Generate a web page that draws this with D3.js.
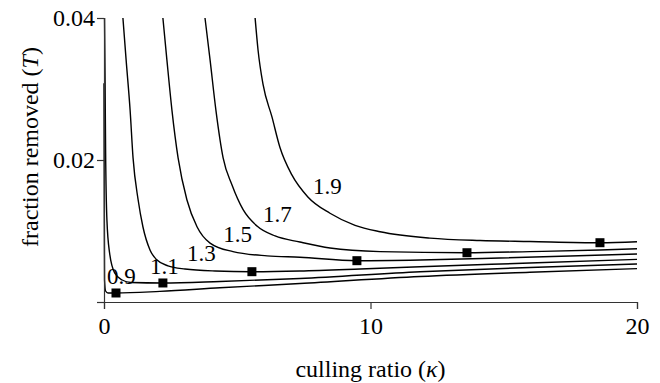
<!DOCTYPE html>
<html>
<head>
<meta charset="utf-8">
<script src="https://cdn.jsdelivr.net/npm/d3@7"></script>
<style>
  body { margin: 0; background: #fff; }
  svg text { font-family: "Liberation Serif", "Times New Roman", Times, "DejaVu Serif", serif; fill: #000; }
</style>
</head>
<body>
<div id="chart"></div>
<script>
// basic reproduction number for each curve
const rValues = ["0.9", "1.1", "1.3", "1.5", "1.7", "1.9"];

// culling ratio (kappa) and fraction removed (T)
const kappa09 = [0, 0.01, 0.02, 0.06, 0.15, 0.45, 2.1, 4.35, 7.35, 11.86, 15.98, 20];
const t09     = [0.0308, 0.0144, 0.0031, 0.00155, 0.00127, 0.00127, 0.0015, 0.002, 0.0026, 0.0036, 0.0042, 0.0047];

const kappa11 = [0.02, 0.04, 0.06, 0.11, 0.21, 0.4, 0.68, 1.01, 2.21, 4.35, 7.35, 11.86, 15.98, 20];
const t11     = [0.04, 0.0313, 0.0214, 0.0115, 0.0069, 0.0041, 0.0031, 0.00275, 0.00268, 0.00289, 0.00331, 0.00427, 0.00486, 0.00535];

const kappa13 = [0.71, 0.83, 0.98, 1.09, 1.28, 1.46, 1.73, 1.99, 2.4, 3.04, 4.17, 5.55, 7.35, 9.61, 11.86, 15.98, 20];
const t13     = [0.04, 0.0341, 0.027, 0.0203, 0.0144, 0.0106, 0.0073, 0.0059, 0.0051, 0.00465, 0.00437, 0.00427, 0.00437, 0.00465, 0.00497, 0.00549, 0.00601];

const kappa15 = [2.21, 2.36, 2.55, 2.78, 3.11, 3.49, 3.98, 4.84, 6.12, 7.35, 9.49, 11.86, 14.86, 17.49, 20];
const t15     = [0.04, 0.0341, 0.027, 0.0203, 0.0144, 0.0106, 0.0083, 0.0071, 0.0065, 0.0063, 0.00582, 0.00592, 0.0062, 0.00648, 0.00676];

const kappa17 = [3.79, 3.98, 4.2, 4.47, 4.8, 5.22, 5.74, 6.42, 7.35, 8.48, 10.36, 13.62, 15.98, 18.61, 20];
const t17     = [0.04, 0.0341, 0.027, 0.0203, 0.0165, 0.013, 0.0107, 0.0093, 0.00845, 0.0076, 0.0071, 0.00694, 0.0071, 0.00732, 0.0075];

const kappa19 = [5.67, 5.78, 5.97, 6.3, 6.6, 7.05, 7.65, 8.48, 9.42, 10.36, 12.23, 14.11, 15.98, 18.61, 20];
const t19     = [0.04, 0.0355, 0.0306, 0.0261, 0.0218, 0.0179, 0.0148, 0.0125, 0.0108, 0.0099, 0.009, 0.00866, 0.00852, 0.00835, 0.00849];

// optimum (minimum) points marked by squares
const minKappa = [0.45, 2.21, 5.55, 9.49, 13.62, 18.61];
const minT     = [0.00127, 0.00268, 0.00427, 0.00582, 0.00694, 0.00835];

// where each curve label sits (data units)
const labelKappa = [0.11, 1.73, 3.11, 4.47, 5.97, 7.84];
const labelT     = [0.00254, 0.00394, 0.00577, 0.00845, 0.01127, 0.01521];

const xTicks = [0, 10, 20];
const yTicks = [0, 0.02, 0.04];

const serif = '"Liberation Serif", "Times New Roman", Times, "DejaVu Serif", serif';

function drawChart() {
    const margin = {top: 18, right: 23, bottom: 81, left: 104},
        width = 660 - margin.left - margin.right,
        height = 383 - margin.top - margin.bottom;

    const svg = d3.select("#chart")
        .append("svg")
        .attr("width", 660)
        .attr("height", 383)
        .attr("font-family", serif)
        .append("g")
        .attr("transform", `translate(${margin.left},${margin.top})`);

    const x = d3.scaleLinear().domain([0, 20]).range([0, width]);
    const y = d3.scaleLinear().domain([0, 0.04]).range([height, 0]);

    const curves = [
        [kappa09, t09], [kappa11, t11], [kappa13, t13],
        [kappa15, t15], [kappa17, t17], [kappa19, t19]
    ].map(([ks, ts]) => ks.map((k, i) => ({k: k, t: ts[i]})));

    const line = d3.line()
        .x(d => x(d.k))
        .y(d => y(d.t))
        .curve(d3.curveMonotoneX);

    svg.selectAll(".curve")
        .data(curves)
        .enter()
        .append("path")
        .attr("class", "curve")
        .attr("d", line)
        .attr("fill", "none")
        .attr("stroke", "#000")
        .attr("stroke-width", 1.4);

    // axes
    const xAxis = svg.append("g")
        .attr("transform", `translate(0,${height})`)
        .call(d3.axisBottom(x).tickValues(xTicks).tickSize(7).tickPadding(8).tickFormat(d3.format("d")));

    const yAxis = svg.append("g")
        .call(d3.axisLeft(y).tickValues(yTicks).tickSize(7).tickPadding(2)
            .tickFormat(d => d === 0 ? "" : d3.format(".2f")(d)));

    [xAxis, yAxis].forEach(a => {
        a.attr("font-family", serif).attr("font-size", 24);
        a.select(".domain").attr("stroke", "#333").attr("stroke-width", 1.2);
        a.selectAll(".tick line").attr("stroke", "#333").attr("stroke-width", 1.2);
        a.selectAll("text").attr("fill", "#000");
    });
    yAxis.selectAll("text").attr("dy", "0.33em");

    // optimum markers
    svg.selectAll(".opt")
        .data(minKappa.map((k, i) => ({k: k, t: minT[i]})))
        .enter()
        .append("rect")
        .attr("class", "opt")
        .attr("x", d => x(d.k) - 4.5)
        .attr("y", d => y(d.t) - 4.5)
        .attr("width", 9)
        .attr("height", 9)
        .attr("fill", "#000");

    // curve labels
    svg.selectAll(".rlabel")
        .data(rValues)
        .enter()
        .append("text")
        .attr("class", "rlabel")
        .attr("x", (d, i) => x(labelKappa[i]))
        .attr("y", (d, i) => y(labelT[i]))
        .attr("font-size", 23)
        .text(d => d);

    // axis titles
    const xt = svg.append("text")
        .attr("x", width / 2)
        .attr("y", height + 75)
        .attr("text-anchor", "middle")
        .attr("font-size", 24);
    xt.append("tspan").text("culling ratio (");
    xt.append("tspan").attr("font-style", "italic").text("\u03BA");
    xt.append("tspan").text(")");

    const yt = svg.append("text")
        .attr("transform", "rotate(-90)")
        .attr("x", -height / 2 + 13)
        .attr("y", -margin.left + 38)
        .attr("text-anchor", "middle")
        .attr("font-size", 24);
    yt.append("tspan").text("fraction removed (");
    yt.append("tspan").attr("font-style", "italic").text("T");
    yt.append("tspan").text(")");
}

drawChart();
</script>
</body>
</html>
